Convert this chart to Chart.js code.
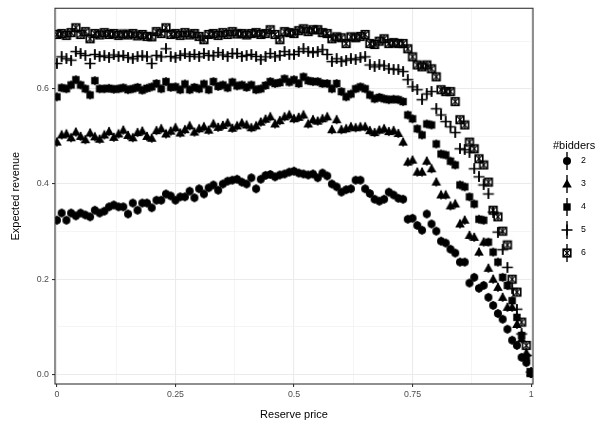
<!DOCTYPE html>
<html>
<head>
<meta charset="utf-8">
<script src="https://cdn.jsdelivr.net/npm/chart.js@4.4.1/dist/chart.umd.min.js"></script>
<style>
  html, body { margin: 0; padding: 0; background: #fff; }
</style>
</head>
<body>
<canvas id="revenueChart" width="612" height="424"></canvas>
<script>
// Reserve price grid (x)
const reservePrice = [
  0.00, 0.01, 0.02, 0.03, 0.04, 0.05, 0.06, 0.07, 0.08, 0.09,
  0.10, 0.11, 0.12, 0.13, 0.14, 0.15, 0.16, 0.17, 0.18, 0.19,
  0.20, 0.21, 0.22, 0.23, 0.24, 0.25, 0.26, 0.27, 0.28, 0.29,
  0.30, 0.31, 0.32, 0.33, 0.34, 0.35, 0.36, 0.37, 0.38, 0.39,
  0.40, 0.41, 0.42, 0.43, 0.44, 0.45, 0.46, 0.47, 0.48, 0.49,
  0.50, 0.51, 0.52, 0.53, 0.54, 0.55, 0.56, 0.57, 0.58, 0.59,
  0.60, 0.61, 0.62, 0.63, 0.64, 0.65, 0.66, 0.67, 0.68, 0.69,
  0.70, 0.71, 0.72, 0.73, 0.74, 0.75, 0.76, 0.77, 0.78, 0.79,
  0.80, 0.81, 0.82, 0.83, 0.84, 0.85, 0.86, 0.87, 0.88, 0.89,
  0.90, 0.91, 0.92, 0.93, 0.94, 0.95, 0.96, 0.97, 0.98, 0.99,
  1.00
];

const bidders = ['2', '3', '4', '5', '6'];

// Expected revenue, one array per number of bidders
const revenue2 = [
  0.324, 0.339, 0.324, 0.339, 0.333, 0.339, 0.335, 0.331, 0.345, 0.339,
  0.343, 0.352, 0.356, 0.352, 0.352, 0.337, 0.360, 0.345, 0.360, 0.360,
  0.350, 0.366, 0.366, 0.379, 0.375, 0.366, 0.373, 0.373, 0.385, 0.371,
  0.390, 0.379, 0.392, 0.398, 0.387, 0.400, 0.406, 0.408, 0.410, 0.404,
  0.400, 0.413, 0.390, 0.410, 0.418, 0.420, 0.415, 0.419, 0.421, 0.425,
  0.427, 0.423, 0.421, 0.419, 0.421, 0.413, 0.423, 0.417, 0.400, 0.394,
  0.383, 0.388, 0.390, 0.408, 0.408, 0.390, 0.380, 0.368, 0.364, 0.368,
  0.383, 0.377, 0.370, 0.368, 0.326, 0.328, 0.313, 0.303, 0.337, 0.316,
  0.301, 0.280, 0.276, 0.263, 0.255, 0.236, 0.236, 0.192, 0.204, 0.181,
  0.187, 0.162, 0.145, 0.128, 0.116, 0.095, 0.072, 0.061, 0.036, 0.025,
  0.002
];

const revenue3 = [
  0.488, 0.503, 0.505, 0.497, 0.509, 0.500, 0.493, 0.507, 0.499, 0.494,
  0.503, 0.510, 0.498, 0.505, 0.513, 0.502, 0.497, 0.508, 0.511, 0.500,
  0.496, 0.512, 0.516, 0.505, 0.511, 0.518, 0.507, 0.514, 0.522, 0.509,
  0.516, 0.520, 0.513, 0.526, 0.519, 0.523, 0.528, 0.517, 0.522, 0.528,
  0.524, 0.518, 0.522, 0.530, 0.536, 0.541, 0.526, 0.533, 0.541, 0.545,
  0.537, 0.540, 0.545, 0.526, 0.535, 0.532, 0.537, 0.541, 0.514, 0.535,
  0.514, 0.516, 0.520, 0.518, 0.520, 0.520, 0.512, 0.508, 0.513, 0.516,
  0.510, 0.512, 0.506, 0.488, 0.446, 0.450, 0.425, 0.425, 0.448, 0.432,
  0.404, 0.377, 0.377, 0.354, 0.358, 0.316, 0.324, 0.292, 0.288, 0.257,
  0.278, 0.223, 0.200, 0.183, 0.162, 0.141, 0.141, 0.105, 0.075, 0.045,
  0.004
];

const revenue4 = [
  0.583, 0.602, 0.600, 0.608, 0.619, 0.608, 0.600, 0.587, 0.617, 0.600,
  0.600, 0.601, 0.599, 0.600, 0.602, 0.598, 0.600, 0.603, 0.597, 0.601,
  0.604, 0.611, 0.600, 0.615, 0.603, 0.604, 0.598, 0.610, 0.598, 0.603,
  0.600, 0.610, 0.598, 0.615, 0.605, 0.608, 0.602, 0.614, 0.606, 0.608,
  0.603, 0.608, 0.598, 0.600, 0.607, 0.615, 0.611, 0.613, 0.621, 0.614,
  0.619, 0.611, 0.625, 0.617, 0.615, 0.615, 0.611, 0.611, 0.600, 0.611,
  0.594, 0.583, 0.589, 0.600, 0.604, 0.600, 0.587, 0.579, 0.582, 0.579,
  0.577, 0.578, 0.577, 0.573, 0.545, 0.537, 0.516, 0.503, 0.526, 0.524,
  0.484, 0.463, 0.461, 0.448, 0.440, 0.398, 0.394, 0.373, 0.358, 0.326,
  0.324, 0.278, 0.257, 0.236, 0.204, 0.187, 0.155, 0.120, 0.082, 0.036,
  0.004
];

const revenue5 = [
  0.653, 0.667, 0.663, 0.660, 0.678, 0.674, 0.670, 0.653, 0.672, 0.668,
  0.669, 0.666, 0.671, 0.668, 0.670, 0.666, 0.663, 0.668, 0.669, 0.667,
  0.653, 0.670, 0.667, 0.684, 0.668, 0.665, 0.670, 0.673, 0.668, 0.672,
  0.667, 0.674, 0.670, 0.669, 0.676, 0.671, 0.668, 0.674, 0.674, 0.668,
  0.670, 0.672, 0.668, 0.661, 0.667, 0.674, 0.667, 0.670, 0.678, 0.672,
  0.672, 0.678, 0.684, 0.678, 0.676, 0.678, 0.682, 0.672, 0.657, 0.663,
  0.657, 0.660, 0.663, 0.661, 0.665, 0.667, 0.650, 0.646, 0.650, 0.648,
  0.642, 0.641, 0.640, 0.636, 0.619, 0.604, 0.598, 0.577, 0.589, 0.594,
  0.558, 0.545, 0.531, 0.520, 0.508, 0.474, 0.472, 0.467, 0.432, 0.415,
  0.398, 0.379, 0.341, 0.299, 0.262, 0.225, 0.180, 0.137, 0.085, 0.040,
  0.005
];

const revenue6 = [
  0.714, 0.716, 0.712, 0.718, 0.728, 0.714, 0.720, 0.705, 0.716, 0.713,
  0.718, 0.714, 0.716, 0.712, 0.715, 0.713, 0.716, 0.711, 0.714, 0.710,
  0.709, 0.720, 0.716, 0.728, 0.714, 0.716, 0.712, 0.718, 0.713, 0.716,
  0.710, 0.703, 0.714, 0.716, 0.712, 0.718, 0.714, 0.720, 0.715, 0.716,
  0.713, 0.716, 0.718, 0.714, 0.716, 0.724, 0.714, 0.703, 0.720, 0.718,
  0.716, 0.722, 0.726, 0.720, 0.724, 0.724, 0.718, 0.716, 0.705, 0.709,
  0.707, 0.695, 0.709, 0.707, 0.710, 0.714, 0.695, 0.693, 0.700, 0.705,
  0.695, 0.697, 0.695, 0.695, 0.684, 0.667, 0.650, 0.646, 0.650, 0.642,
  0.625, 0.598, 0.594, 0.594, 0.573, 0.535, 0.524, 0.488, 0.474, 0.453,
  0.440, 0.404, 0.345, 0.331, 0.301, 0.272, 0.200, 0.173, 0.110, 0.061,
  0.004
];

const xTickValues = [0, 0.125, 0.25, 0.375, 0.5, 0.625, 0.75, 0.875, 1];
const xTickLabels = ['0', '', '0.25', '', '0.5', '', '0.75', '', '1'];
const yTickValues = [0, 0.1, 0.2, 0.3, 0.4, 0.5, 0.6, 0.7];
const yTickLabels = ['0.0', '', '0.2', '', '0.4', '', '0.6', ''];

const revenueSeries = [revenue2, revenue3, revenue4, revenue5, revenue6];
const shapes = ['circle', 'triangle', 'square', 'plus', 'boxcross'];

const FONT = '"Liberation Sans", Arial, Helvetica, sans-serif';

// Draw a ggplot-like marker with a small vertical bar through it
const makeMarker = (shape, stem) => {
  const c = document.createElement('canvas');
  c.width = 14;
  c.height = Math.round(stem * 2 + 2);
  const ctx = c.getContext('2d');
  const cx = 7, cy = c.height / 2;
  ctx.fillStyle = '#000';
  ctx.strokeStyle = '#000';
  ctx.lineWidth = 1.4;
  ctx.beginPath();
  ctx.moveTo(cx, cy - stem);
  ctx.lineTo(cx, cy + stem);
  ctx.stroke();

  if (shape === 'circle') {
    ctx.beginPath();
    ctx.arc(cx, cy, 4, 0, Math.PI * 2);
    ctx.fill();
  } else if (shape === 'triangle') {
    ctx.beginPath();
    ctx.moveTo(cx, cy - 5);
    ctx.lineTo(cx - 4.8, cy + 3.4);
    ctx.lineTo(cx + 4.8, cy + 3.4);
    ctx.closePath();
    ctx.fill();
  } else if (shape === 'square') {
    ctx.fillRect(cx - 3.7, cy - 3.7, 7.4, 7.4);
  } else if (shape === 'plus') {
    ctx.lineWidth = 1.6;
    ctx.beginPath();
    ctx.moveTo(cx - 5.5, cy);
    ctx.lineTo(cx + 5.5, cy);
    ctx.moveTo(cx, cy - 5.5);
    ctx.lineTo(cx, cy + 5.5);
    ctx.stroke();
  } else {
    ctx.lineWidth = 1.6;
    ctx.strokeRect(cx - 3.8, cy - 3.8, 7.6, 7.6);
    ctx.lineWidth = 1.1;
    ctx.beginPath();
    ctx.moveTo(cx - 3.8, cy - 3.8);
    ctx.lineTo(cx + 3.8, cy + 3.8);
    ctx.moveTo(cx + 3.8, cy - 3.8);
    ctx.lineTo(cx - 3.8, cy + 3.8);
    ctx.stroke();
  }
  return c;
};

const plotMarkers = shapes.map(s => makeMarker(s, 4.5));
const legendMarkers = shapes.map(s => makeMarker(s, 9));

// Panel border (theme_bw)
const panelBorder = {
  id: 'panelBorder',
  afterDatasetsDraw(chart) {
    const { ctx, chartArea: a } = chart;
    ctx.save();
    ctx.strokeStyle = '#333333';
    ctx.lineWidth = 1.1;
    ctx.strokeRect(a.left, a.top, a.right - a.left, a.bottom - a.top);
    ctx.restore();
  }
};

// Legend on the right
const bidderLegend = {
  id: 'bidderLegend',
  afterDraw(chart) {
    const { ctx, chartArea: a } = chart;
    const left = a.right + 20;
    ctx.save();
    ctx.fillStyle = '#000';
    ctx.textBaseline = 'middle';
    ctx.textAlign = 'left';
    ctx.font = '11px ' + FONT;
    ctx.fillText('#bidders', left, 146);
    ctx.font = '8.8px ' + FONT;
    bidders.forEach((b, i) => {
      const y = 161 + i * 23;
      const m = legendMarkers[i];
      ctx.drawImage(m, left + 14 - m.width / 2, y - m.height / 2);
      ctx.fillText(b, left + 28, y);
    });
    ctx.restore();
  }
};

const renderRevenueChart = () => {

  const datasets = bidders.map((b, i) => ({
    label: b,
    data: reservePrice.map((x, j) => ({ x: x, y: revenueSeries[i][j] })),
    pointStyle: plotMarkers[i],
    pointRadius: 4,
    showLine: false,
    order: bidders.length - i
  }));

  const isMajor = (vals, labels, v) => {
    const k = vals.findIndex(t => Math.abs(t - v) < 1e-9);
    return k >= 0 && labels[k] !== '';
  };

  const options = {
    responsive: false,
    animation: false,
    events: [],
    layout: { padding: { left: 0, right: 79, top: 7, bottom: 0 } },
    plugins: {
      legend: { display: false },
      tooltip: { enabled: false }
    },
    scales: {
      x: {
        type: 'linear',
        min: -0.004,
        max: 1.004,
        afterBuildTicks: s => { s.ticks = xTickValues.map(v => ({ value: v })); },
        afterFit: s => { s.height = 40; },
        border: { display: false },
        grid: {
          color: c => isMajor(xTickValues, xTickLabels, c.tick.value) ? '#EBEBEB' : '#F3F3F3',
          lineWidth: c => isMajor(xTickValues, xTickLabels, c.tick.value) ? 1.1 : 0.8,
          tickColor: c => isMajor(xTickValues, xTickLabels, c.tick.value) ? '#333333' : 'rgba(0,0,0,0)',
          tickLength: 3,
          tickWidth: 1.1
        },
        ticks: {
          autoSkip: false,
          maxRotation: 0,
          padding: 2,
          color: '#4D4D4D',
          font: { family: FONT, size: 8.8 },
          callback: v => {
            const k = xTickValues.findIndex(t => Math.abs(t - v) < 1e-9);
            return k >= 0 ? xTickLabels[k] : '';
          }
        },
        title: {
          display: true,
          text: 'Reserve price',
          color: '#000',
          font: { family: FONT, size: 11 },
          padding: { top: 0, bottom: 2 }
        }
      },
      y: {
        type: 'linear',
        min: -0.02,
        max: 0.769,
        afterBuildTicks: s => { s.ticks = yTickValues.map(v => ({ value: v })); },
        afterFit: s => { s.width = 55; },
        border: { display: false },
        grid: {
          color: c => isMajor(yTickValues, yTickLabels, c.tick.value) ? '#EBEBEB' : '#F3F3F3',
          lineWidth: c => isMajor(yTickValues, yTickLabels, c.tick.value) ? 1.1 : 0.8,
          tickColor: c => isMajor(yTickValues, yTickLabels, c.tick.value) ? '#333333' : 'rgba(0,0,0,0)',
          tickLength: 3,
          tickWidth: 1.1
        },
        ticks: {
          autoSkip: false,
          padding: 3,
          color: '#4D4D4D',
          font: { family: FONT, size: 8.8 },
          callback: v => {
            const k = yTickValues.findIndex(t => Math.abs(t - v) < 1e-9);
            return k >= 0 ? yTickLabels[k] : '';
          }
        },
        title: {
          display: true,
          text: 'Expected revenue',
          color: '#000',
          font: { family: FONT, size: 11 },
          padding: { top: 9, bottom: 0 }
        }
      }
    }
  };

  new Chart('revenueChart', {
    type: 'scatter',
    data: { datasets },
    options,
    plugins: [panelBorder, bidderLegend]
  });
};

renderRevenueChart();
</script>
</body>
</html>
